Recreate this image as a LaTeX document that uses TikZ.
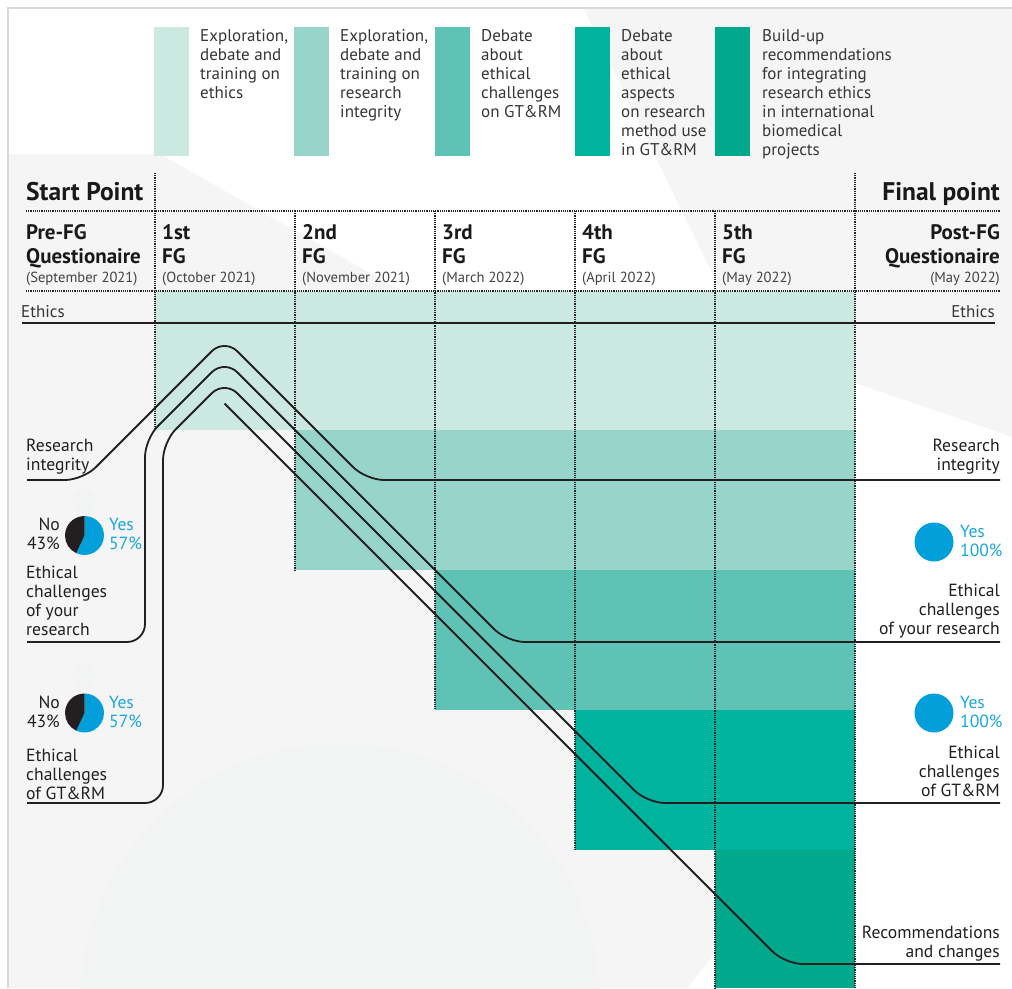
\documentclass[tikz,border=0pt]{standalone}
\usepackage{fontspec}
\setmainfont{PT Sans}
\definecolor{txt}{HTML}{231F20}
\definecolor{bggray}{HTML}{F5F5F5}
\definecolor{bgcirc}{HTML}{F1F4F3}
\definecolor{framegray}{HTML}{D9D9D9}
\definecolor{cA}{HTML}{CBE8E1}
\definecolor{cB}{HTML}{97D5CA}
\definecolor{cC}{HTML}{5EC2B4}
\definecolor{cD}{HTML}{00B39D}
\definecolor{cE}{HTML}{00A88C}
\definecolor{pieblue}{HTML}{039FDA}
\definecolor{yesblue}{HTML}{1BA6DE}
\newcommand\Lft[1]{\vtop{\halign{##\hfil\cr#1\crcr}}}
\newcommand\Rgt[1]{\vtop{\halign{\hfil##\cr#1\crcr}}}
\begin{document}
\begin{tikzpicture}[x=1pt,y=-1pt,
  lbl/.style={font=\fontsize{17.6}{19}\selectfont, text=txt, inner sep=0pt},
  leg/.style={font=\fontsize{17}{19}\selectfont, text=txt!90, inner sep=0pt},
  big/.style={font=\bfseries\fontsize{25.5}{26}\selectfont, text=black!90, inner sep=0pt},
  hd/.style={font=\bfseries\fontsize{21}{24}\selectfont, text=black!90, inner sep=0pt},
  datelbl/.style={font=\fontsize{14.6}{16}\selectfont, text=txt!85, inner sep=0pt},
  yeslbl/.style={lbl, text=yesblue},
  dots/.style={line width=1.3pt, dash pattern=on 1.1pt off 1.1pt, draw=black!85},
  flow/.style={line width=1.8pt, draw=txt, rounded corners=18pt},
  legbar/.style={inner sep=0pt, minimum width=35pt, minimum height=129pt, anchor=north west}
]
\useasboundingbox (0,0) rectangle (1012,988);
% background
\fill[white] (0,0) rectangle (1012,988);
\fill[bggray] (8,8) rectangle (1012,988);
\begin{scope}
\clip (8,8) rectangle (1012,988);
\fill[bgcirc] (340,1003) circle (260pt);
\end{scope}
\fill[white] (8,8) -- (583,8) -- (724,298) -- (414,298) -- (160,154) -- (8,154) -- cycle;
\fill[white] (855,383) -- (1012,437) -- (1012,988) -- (855,988) -- cycle;
\fill[white] (715,952) -- (715,988) -- (688,988) -- cycle;
\fill[bgcirc] (84,501) circle (12pt);
\fill[bgcirc] (84,676) circle (12pt);
\draw[framegray, line width=1.5pt] (8,988) -- (8,8) -- (1012,8);

% legend bars
\node[legbar, fill=cA] (bar1) at (154,27) {};
\node[legbar, fill=cB] (bar2) at (294,27) {};
\node[legbar, fill=cC] (bar3) at (435,27) {};
\node[legbar, fill=cD] (bar4) at (575,27) {};
\node[legbar, fill=cE] (bar5) at (715,27) {};
\node[leg, anchor=base west] (leg1) at (200,41) {\Lft{Exploration,\cr debate and\cr training on\cr ethics}};
\node[leg, anchor=base west] (leg2) at (340,41) {\Lft{Exploration,\cr debate and\cr training on\cr research\cr integrity}};
\node[leg, anchor=base west] (leg3) at (481,41) {\Lft{Debate\cr about\cr ethical\cr challenges\cr on GT\&RM}};
\node[leg, anchor=base west] (leg4) at (621,41) {\Lft{Debate\cr about\cr ethical\cr aspects\cr on research\cr method use\cr in GT\&RM}};
\node[leg, anchor=base west] (leg5) at (762,41) {\Lft{Build-up\cr recommendations\cr for integrating\cr research ethics\cr in international\cr biomedical\cr projects}};

% colored steps
\fill[cA] (155,291) rectangle (855,430);
\fill[cB] (295,430) rectangle (855,570);
\fill[cC] (435,570) rectangle (855,710);
\fill[cD] (575,710) rectangle (855,850);
\fill[cE] (715,850) rectangle (855,988);

% grid
\draw[dots] (26,211) -- (1000,211);
\draw[dots] (26,291) -- (1000,291);
\draw[dots] (155,173) -- (155,430);
\draw[dots] (295,211) -- (295,570);
\draw[dots] (435,211) -- (435,710);
\draw[dots] (575,211) -- (575,850);
\draw[dots] (715,211) -- (715,988);
\draw[dots] (855,173) -- (855,988);

% header
\node[big, anchor=base west] (start) at (26,200) {Start Point};
\node[big, anchor=base east] (final) at (1000,200) {Final point};
\node[hd, anchor=base west] (pre) at (26,239) {\Lft{Pre-FG\cr Questionaire}};
\node[datelbl, anchor=base west] (pred) at (26,282) {(September 2021)};
\node[hd, anchor=base west] (fg1) at (162,239) {\Lft{1st\cr FG}};
\node[datelbl, anchor=base west] (fg1d) at (162,282) {(October 2021)};
\node[hd, anchor=base west] (fg2) at (302,239) {\Lft{2nd\cr FG}};
\node[datelbl, anchor=base west] (fg2d) at (302,282) {(November 2021)};
\node[hd, anchor=base west] (fg3) at (442,239) {\Lft{3rd\cr FG}};
\node[datelbl, anchor=base west] (fg3d) at (442,282) {(March 2022)};
\node[hd, anchor=base west] (fg4) at (582,239) {\Lft{4th\cr FG}};
\node[datelbl, anchor=base west] (fg4d) at (582,282) {(April 2022)};
\node[hd, anchor=base west] (fg5) at (722,239) {\Lft{5th\cr FG}};
\node[datelbl, anchor=base west] (fg5d) at (722,282) {(May 2022)};
\node[hd, anchor=base east] (post) at (1000,239) {\Rgt{Post-FG\cr Questionaire}};
\node[datelbl, anchor=base east] (postd) at (1000,282) {(May 2022)};

% ethics row
\node[leg, anchor=base west] (ethL) at (21,317) {Ethics};
\node[leg, anchor=base east] (ethR) at (995,317) {Ethics};
\coordinate (eth-s) at (22,323);
\coordinate (eth-e) at (995,323);
\draw[line width=1.8pt, draw=txt] (eth-s) -- (eth-e);

% left labels
\node[lbl, anchor=base west] (riL) at (26,451) {\Lft{Research\cr integrity}};
\node[lbl, anchor=base east] (no1) at (60,530) {\Rgt{No\cr 43\%}};
\node[yeslbl, anchor=base west] (yes1) at (109,530) {\Lft{Yes\cr 57\%}};
\node[lbl, anchor=base west] (ecrL) at (26,578) {\Lft{Ethical\cr challenges\cr of your\cr research}};
\node[lbl, anchor=base east] (no2) at (60,708) {\Rgt{No\cr 43\%}};
\node[yeslbl, anchor=base west] (yes2) at (109,708) {\Lft{Yes\cr 57\%}};
\node[lbl, anchor=base west] (ecgL) at (26,761) {\Lft{Ethical\cr challenges\cr of GT\&RM}};

% pies
\coordinate (pie1) at (84.5,535.5);
\coordinate (pie2) at (84.5,713);
\coordinate (pie3) at (934,542);
\coordinate (pie4) at (934,713);
\fill[pieblue] (pie1) -- ++(0,-19.5) arc (-90:115:19.5) -- cycle;
\fill[txt] (pie1) -- ++(0,-19.5) arc (270:115:19.5) -- cycle;
\fill[pieblue] (pie2) -- ++(0,-19.5) arc (-90:115:19.5) -- cycle;
\fill[txt] (pie2) -- ++(0,-19.5) arc (270:115:19.5) -- cycle;
\fill[pieblue] (pie3) circle (19.5pt);
\fill[pieblue] (pie4) circle (19.5pt);

% right labels
\node[lbl, anchor=base east] (riR) at (1000,451) {\Rgt{Research\cr integrity}};
\node[yeslbl, anchor=base west] (yes3) at (960,537) {\Lft{Yes\cr 100\%}};
\node[lbl, anchor=base east] (ecrR) at (1000,596) {\Rgt{Ethical\cr challenges\cr of your research}};
\node[yeslbl, anchor=base west] (yes4) at (960,708) {\Lft{Yes\cr 100\%}};
\node[lbl, anchor=base east] (ecgR) at (1000,758) {\Rgt{Ethical\cr challenges\cr of GT\&RM}};
\node[lbl, anchor=base east] (recR) at (1000,938) {\Rgt{Recommendations\cr and changes}};

% flow lines
\coordinate (ri-s) at (27,480);
\coordinate (ri-a) at (83,480);
\coordinate (pk1) at (224.5,338.5);
\coordinate (ri-b) at (366,480);
\coordinate (ri-e) at (1000,480);
\draw[flow] (ri-s) -- (ri-a) -- (pk1) -- (ri-b) -- (ri-e);

\coordinate (ecr-s) at (27,642);
\coordinate (ecr-a) at (145,642);
\coordinate (ecr-b) at (145,439);
\coordinate (pk2) at (224.5,359.5);
\coordinate (ecr-c) at (507,642);
\coordinate (ecr-e) at (1000,642);
\draw[flow] (ecr-s) -- (ecr-a) -- (ecr-b) -- (pk2) -- (ecr-c) -- (ecr-e);

\coordinate (ecg-s) at (27,803);
\coordinate (ecg-a) at (163,803);
\coordinate (ecg-b) at (163,442);
\coordinate (pk3) at (224.5,380.5);
\coordinate (ecg-c) at (647,803);
\coordinate (ecg-e) at (1000,803);
\draw[flow] (ecg-s) -- (ecg-a) -- (ecg-b) -- (pk3) -- (ecg-c) -- (ecg-e);

\coordinate (rec-s) at (224.5,403.5);
\coordinate (rec-a) at (785,964);
\coordinate (rec-e) at (1000,964);
\draw[flow] (rec-s) -- (rec-a) -- (rec-e);
\end{tikzpicture}
\end{document}
